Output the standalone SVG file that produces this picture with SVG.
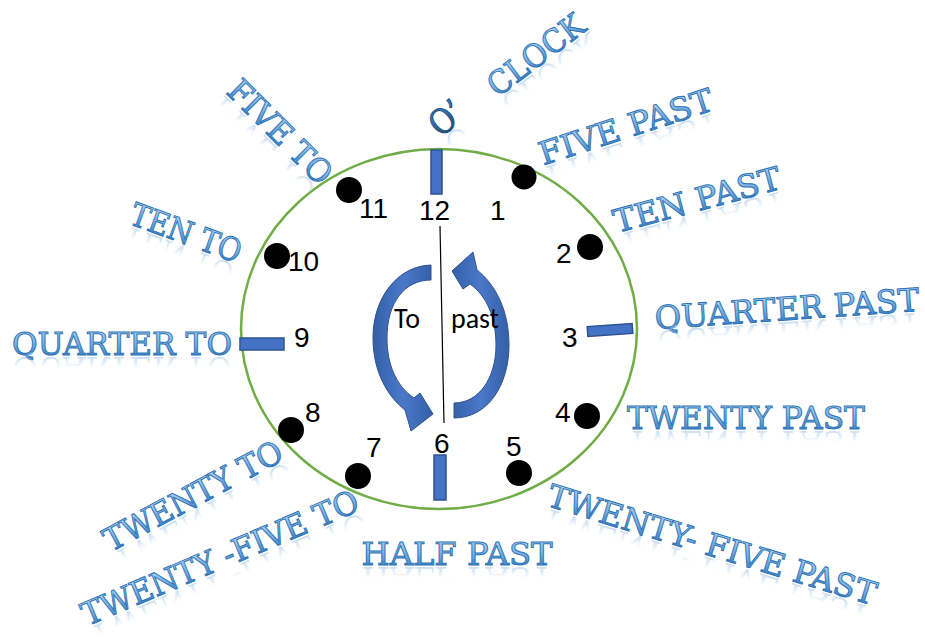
<svg xmlns="http://www.w3.org/2000/svg" xmlns:xlink="http://www.w3.org/1999/xlink" width="925" height="639" viewBox="0 0 925 639">
  <defs>
    <linearGradient id="waFill" x1="0" y1="0" x2="0" y2="1">
      <stop offset="0.2" stop-color="#A9CCEE"/>
      <stop offset="0.55" stop-color="#72A8DD"/>
      <stop offset="0.8" stop-color="#4584C6"/>
    </linearGradient>
    <linearGradient id="darkFill" x1="0" y1="0" x2="0" y2="1">
      <stop offset="0.2" stop-color="#3B7CC0"/>
      <stop offset="0.8" stop-color="#1F4E79"/>
    </linearGradient>
    <linearGradient id="reflFill" x1="0" y1="0" x2="0" y2="1">
      <stop offset="0" stop-color="#9DC3E6" stop-opacity="0"/>
      <stop offset="0.5" stop-color="#9DC3E6" stop-opacity="0"/>
      <stop offset="0.8" stop-color="#9DC3E6" stop-opacity="0.55"/>
    </linearGradient>
    <linearGradient id="arrowFill" x1="0" y1="0" x2="1" y2="0">
      <stop offset="0" stop-color="#3560A8"/>
      <stop offset="0.5" stop-color="#4A78C8"/>
      <stop offset="1" stop-color="#3560A8"/>
    </linearGradient>
  </defs>
  <style>
    .lbl { font-family: "DejaVu Serif", "Liberation Serif", serif; font-size: 32px; fill: url(#waFill); stroke: #2E75B6; stroke-width: 1; text-anchor: middle; }
    .lbl.dark { fill: url(#darkFill); stroke: #1F4E79; font-size: 34px; }
    .refl { fill: url(#reflFill); stroke: none; }
    .num { font-family: "Liberation Sans", Arial, sans-serif; font-size: 28px; fill: #000; }
    .dot { fill: #000; }
    .mark { fill: #4472C4; stroke: #2F528F; stroke-width: 1.5; }
    .arrow { fill: url(#arrowFill); stroke: #2F528F; stroke-width: 1; }
    .word { font-family: Carlito, Lato, "Open Sans", sans-serif; font-size: 28px; fill: #000; }
  </style>

  <!-- clock face -->
  <g id="clock-face">
    <ellipse cx="439" cy="329" rx="198" ry="180" fill="none" stroke="#70AD47" stroke-width="2.5"/>
  </g>

  <!-- hour markers -->
  <g id="markers">
    <rect class="mark" x="431" y="150" width="11" height="44"/>
    <rect class="mark" x="434" y="455" width="12" height="45"/>
    <rect class="mark" x="240" y="338" width="44" height="12"/>
    <rect class="mark" x="587.5" y="325" width="45" height="10" transform="rotate(-4 610 330)"/>
  </g>

  <!-- dots -->
  <g id="dots">
    <circle class="dot" cx="524" cy="177" r="12.5"/>
    <circle class="dot" cx="590" cy="247" r="13"/>
    <circle class="dot" cx="587" cy="416" r="13"/>
    <circle class="dot" cx="519" cy="473" r="13"/>
    <circle class="dot" cx="358" cy="476" r="13"/>
    <circle class="dot" cx="291" cy="430" r="13"/>
    <circle class="dot" cx="277" cy="256" r="13"/>
    <circle class="dot" cx="349" cy="190" r="13"/>
  </g>

  <!-- numbers -->
  <g id="numbers">
    <text class="num" x="419" y="220">12</text>
    <text class="num" x="490" y="220">1</text>
    <text class="num" x="556" y="263">2</text>
    <text class="num" x="562" y="347">3</text>
    <text class="num" x="555" y="422">4</text>
    <text class="num" x="506" y="456">5</text>
    <text class="num" x="434" y="453">6</text>
    <text class="num" x="366" y="457">7</text>
    <text class="num" x="305" y="422">8</text>
    <text class="num" x="294" y="347">9</text>
    <text class="num" x="288" y="271">10</text>
    <text class="num" x="359" y="218">11</text>
  </g>

  <!-- connectors: divider line and curved arrows -->
  <g id="connectors">
    <line x1="440" y1="226" x2="444" y2="423" stroke="#000" stroke-width="1.2"/>
    <path class="arrow" d="M431,265 C398,266 373,297 373,338 C373,371 387,396 405,410 L411,431 L433,414 L420,393 L414,398 C396,386 387,364 387,338 C387,302 405,280 431,280 Z"/>
    <path class="arrow" d="M454,418 C488,418 509,385 509,345 C509,311 496,285 477,270 L473,252 L452,271 L463,289 L470,284 C487,296 496,318 496,345 C496,378 479,403 454,403 Z"/>
  </g>

  <g id="word-to"><text class="word" x="394" y="328">To</text></g>
  <g id="word-past"><text class="word" x="451" y="328" textLength="48">past</text></g>

  <!-- WordArt labels -->
  <g id="lbl-o" class="lbl dark" transform="translate(446,118) rotate(-40)">
    <text id="t-o" x="0" y="12" textLength="34" lengthAdjust="spacingAndGlyphs">O’</text>
    <use href="#t-o" class="refl" transform="translate(0,26) scale(1,-1)"/>
  </g>
  <g id="lbl-clock" class="lbl" transform="translate(536,55) rotate(-37)">
    <text id="t-clock" x="0" y="11" textLength="113" lengthAdjust="spacingAndGlyphs">CLOCK</text>
    <use href="#t-clock" class="refl" transform="translate(0,24) scale(1,-1)"/>
  </g>
  <g id="lbl-fiveto" class="lbl" transform="translate(280,132) rotate(45)">
    <text id="t-fiveto" x="0" y="11" textLength="133" lengthAdjust="spacingAndGlyphs">FIVE TO</text>
    <use href="#t-fiveto" class="refl" transform="translate(0,24) scale(1,-1)"/>
  </g>
  <g id="lbl-fivepast" class="lbl" transform="translate(626,127) rotate(-18)">
    <text id="t-fivepast" x="0" y="11" textLength="181" lengthAdjust="spacingAndGlyphs">FIVE PAST</text>
    <use href="#t-fivepast" class="refl" transform="translate(0,24) scale(1,-1)"/>
  </g>
  <g id="lbl-tenpast" class="lbl" transform="translate(697,200) rotate(-15)">
    <text id="t-tenpast" x="0" y="11" textLength="172" lengthAdjust="spacingAndGlyphs">TEN PAST</text>
    <use href="#t-tenpast" class="refl" transform="translate(0,24) scale(1,-1)"/>
  </g>
  <g id="lbl-tento" class="lbl" transform="translate(186,233) rotate(20)">
    <text id="t-tento" x="0" y="11" textLength="116" lengthAdjust="spacingAndGlyphs">TEN TO</text>
    <use href="#t-tento" class="refl" transform="translate(0,24) scale(1,-1)"/>
  </g>
  <g id="lbl-quarterto" class="lbl" transform="translate(122,344) rotate(0)">
    <text id="t-quarterto" x="0" y="11" textLength="220" lengthAdjust="spacingAndGlyphs">QUARTER TO</text>
    <use href="#t-quarterto" class="refl" transform="translate(0,24) scale(1,-1)"/>
  </g>
  <g id="lbl-quarterpast" class="lbl" transform="translate(787,309) rotate(-4)">
    <text id="t-quarterpast" x="0" y="11" textLength="265" lengthAdjust="spacingAndGlyphs">QUARTER PAST</text>
    <use href="#t-quarterpast" class="refl" transform="translate(0,24) scale(1,-1)"/>
  </g>
  <g id="lbl-twentypast" class="lbl" transform="translate(746,418) rotate(0)">
    <text id="t-twentypast" x="0" y="11" textLength="238" lengthAdjust="spacingAndGlyphs">TWENTY PAST</text>
    <use href="#t-twentypast" class="refl" transform="translate(0,24) scale(1,-1)"/>
  </g>
  <g id="lbl-twentyto" class="lbl" transform="translate(193,496) rotate(-28)">
    <text id="t-twentyto" x="0" y="11" textLength="198" lengthAdjust="spacingAndGlyphs">TWENTY TO</text>
    <use href="#t-twentyto" class="refl" transform="translate(0,24) scale(1,-1)"/>
  </g>
  <g id="lbl-twentyfiveto" class="lbl" transform="translate(220,558) rotate(-23)">
    <text id="t-twentyfiveto" x="0" y="11" textLength="298" lengthAdjust="spacingAndGlyphs">TWENTY -FIVE TO</text>
    <use href="#t-twentyfiveto" class="refl" transform="translate(0,24) scale(1,-1)"/>
  </g>
  <g id="lbl-halfpast" class="lbl" transform="translate(457,554) rotate(0)">
    <text id="t-halfpast" x="0" y="11" textLength="191" lengthAdjust="spacingAndGlyphs">HALF PAST</text>
    <use href="#t-halfpast" class="refl" transform="translate(0,24) scale(1,-1)"/>
  </g>
  <g id="lbl-twentyfivepast" class="lbl" transform="translate(712,545) rotate(17)">
    <text id="t-twentyfivepast" x="0" y="11" textLength="342" lengthAdjust="spacingAndGlyphs">TWENTY- FIVE PAST</text>
    <use href="#t-twentyfivepast" class="refl" transform="translate(0,24) scale(1,-1)"/>
  </g>
</svg>
